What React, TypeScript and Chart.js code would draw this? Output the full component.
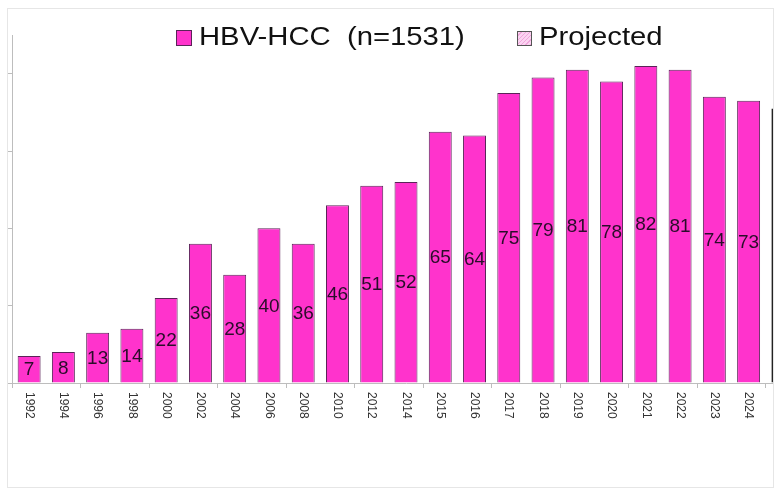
import React, { useEffect, useRef } from "react";
import { Chart, registerables } from "chart.js";

Chart.register(...registerables);

// Annual HBV-related HCC cases, with the projected year kept in its own series
const years = [
  "1992", "1994", "1996", "1998", "2000", "2002", "2004", "2006", "2008", "2010", "2012",
  "2014", "2015", "2016", "2017", "2018", "2019", "2020", "2021", "2022", "2023", "2024", "2025",
];
const observedCases = [
  7, 8, 13, 14, 22, 36, 28, 40, 36, 46, 51, 52, 65, 64, 75, 79, 81, 78, 82, 81, 74, 73, null,
];
const projectedCases = [
  null, null, null, null, null, null, null, null, null, null, null, null, null, null, null, null,
  null, null, null, null, null, null, 71,
];
const yTickValues = [0, 20, 40, 60, 80];
const yMax = 90;

const MAGENTA = "#ff33cc";
const BAR_EDGE = "#5a2458";
const AXIS_GREY = "#bdbdbd";
const FONT = '"Liberation Sans", Arial, Helvetica, sans-serif';

function hatchPattern(): CanvasPattern | string {
  const c = document.createElement("canvas");
  c.width = 6;
  c.height = 6;
  const g = c.getContext("2d");
  if (!g) return "#fbd3f1";
  g.fillStyle = "#fbd3f1";
  g.fillRect(0, 0, 6, 6);
  g.strokeStyle = "#f09ad8";
  g.lineWidth = 1;
  g.beginPath();
  g.moveTo(0, 6);
  g.lineTo(6, 0);
  g.stroke();
  const p = g.createPattern(c, "repeat");
  return p || "#fbd3f1";
}

// Value printed in the middle of each bar
const valueLabels = {
  id: "valueLabels",
  afterDatasetsDraw(chart: any) {
    const ctx = chart.ctx;
    ctx.save();
    ctx.font = `19px ${FONT}`;
    ctx.fillStyle = "#2a0d2a";
    ctx.textAlign = "center";
    ctx.textBaseline = "middle";
    chart.data.datasets.forEach((ds: any, di: number) => {
      const meta = chart.getDatasetMeta(di);
      meta.data.forEach((el: any, i: number) => {
        const v = ds.data[i];
        if (v === null || v === undefined) return;
        ctx.fillText(String(v), el.x, (el.y + el.base) / 2 + 1);
      });
    });
    ctx.restore();
  },
};

// Year labels turned a quarter clockwise, read top to bottom
const yearLabels = {
  id: "yearLabels",
  afterDraw(chart: any) {
    const ctx = chart.ctx;
    const xs = chart.scales.x;
    const top = chart.chartArea.bottom + 9;
    ctx.save();
    ctx.font = `12px ${FONT}`;
    ctx.fillStyle = "#333333";
    ctx.textAlign = "left";
    ctx.textBaseline = "middle";
    chart.data.labels.forEach((lab: string, i: number) => {
      const x = xs.getPixelForTick(i);
      ctx.save();
      ctx.translate(x, top);
      ctx.rotate(Math.PI / 2);
      ctx.fillText(lab, 0, 0);
      ctx.restore();
    });
    ctx.restore();
  },
};

function CasesChart() {
  const ref = useRef<HTMLCanvasElement | null>(null);

  useEffect(() => {
    if (!ref.current) return;
    const chart = new Chart(ref.current, {
      type: "bar",
      data: {
        labels: years,
        datasets: [
          {
            label: "HBV-HCC  (n=1531)",
            data: observedCases,
            backgroundColor: MAGENTA,
            borderColor: BAR_EDGE,
            borderWidth: 1,
            barPercentage: 0.67,
            categoryPercentage: 1,
          },
          {
            label: "Projected",
            data: projectedCases,
            backgroundColor: hatchPattern() as any,
            borderColor: "#222222",
            borderWidth: 2,
            barPercentage: 0.67,
            categoryPercentage: 1,
          },
        ],
      },
      options: {
        responsive: false,
        animation: false,
        devicePixelRatio: 1,
        layout: { padding: { top: 26, bottom: 99, left: 0, right: 0 } },
        plugins: {
          legend: { display: false },
          tooltip: { enabled: false },
          title: { display: false },
        },
        scales: {
          x: {
            stacked: true,
            ticks: { display: false },
            grid: {
              offset: true,
              drawOnChartArea: false,
              drawTicks: true,
              tickLength: 5,
              color: (c: any) => (typeof c.index === "number" && c.index % 2 === 0 ? AXIS_GREY : "rgba(0,0,0,0)"),
            },
            border: { display: true, color: AXIS_GREY, width: 1 },
          },
          y: {
            stacked: true,
            min: 0,
            max: yMax,
            afterBuildTicks: (scale: any) => {
              scale.ticks = yTickValues.map((v) => ({ value: v }));
            },
            ticks: { display: false },
            grid: {
              drawOnChartArea: false,
              drawTicks: true,
              tickLength: 5,
              color: AXIS_GREY,
            },
            border: { display: true, color: AXIS_GREY, width: 1 },
          },
        },
      },
      plugins: [valueLabels, yearLabels],
    });
    return () => chart.destroy();
  }, []);

  return (
    <canvas
      ref={ref}
      width={793}
      height={478}
      style={{ position: "absolute", left: -1, top: 0, width: 793, height: 478 }}
    />
  );
}

const legendText: React.CSSProperties = {
  position: "absolute",
  fontFamily: FONT,
  fontSize: 25,
  lineHeight: "25px",
  color: "#111",
  whiteSpace: "pre",
  transform: "scaleX(1.17)",
  transformOrigin: "left center",
};

export default function App() {
  return (
    <div
      style={{
        position: "absolute",
        left: 7,
        top: 8,
        width: 765,
        height: 478,
        border: "1px solid #e6e6e6",
        overflow: "hidden",
        background: "#fff",
      }}
    >
      <CasesChart />
      <div
        style={{
          position: "absolute",
          left: 168,
          top: 21,
          width: 14,
          height: 14,
          background: MAGENTA,
          border: `1px solid ${BAR_EDGE}`,
        }}
      />
      <div style={{ ...legendText, left: 191, top: 15 }}>HBV-HCC  (n=1531)</div>
      <div
        style={{
          position: "absolute",
          left: 509,
          top: 22,
          width: 13,
          height: 13,
          border: "1px solid #555",
          background:
            "repeating-linear-gradient(135deg, #fbd3f1 0px, #fbd3f1 2px, #f0a6dc 2px, #f0a6dc 3px)",
        }}
      />
      <div style={{ ...legendText, left: 531, top: 15 }}>Projected</div>
    </div>
  );
}
